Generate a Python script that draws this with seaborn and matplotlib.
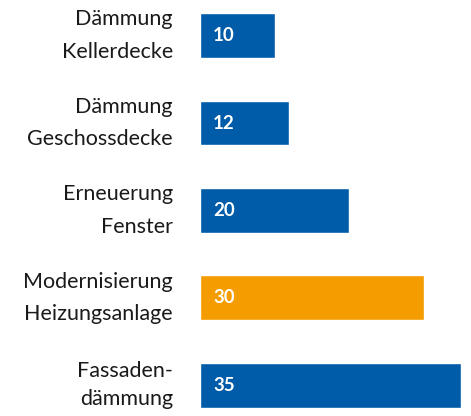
import matplotlib.pyplot as plt
import seaborn as sns
import pandas as pd

categories = [
    "Dämmung\nKellerdecke",
    "Dämmung\nGeschossdecke",
    "Erneuerung\nFenster",
    "Modernisierung\nHeizungsanlage",
    "Fassaden-\ndämmung",
]
values = [10, 12, 20, 30, 35]
highlight = [False, False, False, True, False]

BLUE = "#005ca9"
ORANGE = "#f59c00"

sns.set_theme(style="white")
plt.rcParams["font.family"] = ["Lato", "DejaVu Sans"]

df = pd.DataFrame({"measure": categories, "value": values, "hl": highlight})

fig = plt.figure(figsize=(4.71, 4.16), dpi=100)
ax = fig.add_axes([200 / 471, 0, 261 / 471, 1])

sns.barplot(
    data=df, x="value", y="measure", hue="hl",
    palette={False: BLUE, True: ORANGE},
    orient="h", width=0.514, dodge=False, legend=False,
    saturation=1, ax=ax,
)

ax.set_xlim(0, 35)
ax.set_ylim(4.349, -0.406)
ax.set_xticks([])
ax.set_xlabel("")
ax.set_ylabel("")
ax.set_yticks(range(len(categories)))
labels = ax.set_yticklabels(categories, fontsize=15.5, color="#1a1a1a",
                            linespacing=1.78, va="center")
# the last label sits near the bottom edge, so it is set a little tighter
labels[-1].set_linespacing(1.5)
ax.tick_params(axis="y", length=0, pad=19.5)
sns.despine(ax=ax, left=True, bottom=True)

for i, v in enumerate(values):
    ax.annotate(str(v), xy=(0, i), xytext=(9.5, 0), textcoords="offset points",
                ha="left", va="center", color="white", fontsize=13.5,
                fontweight="bold")

fig.savefig("out.png", dpi=100)
